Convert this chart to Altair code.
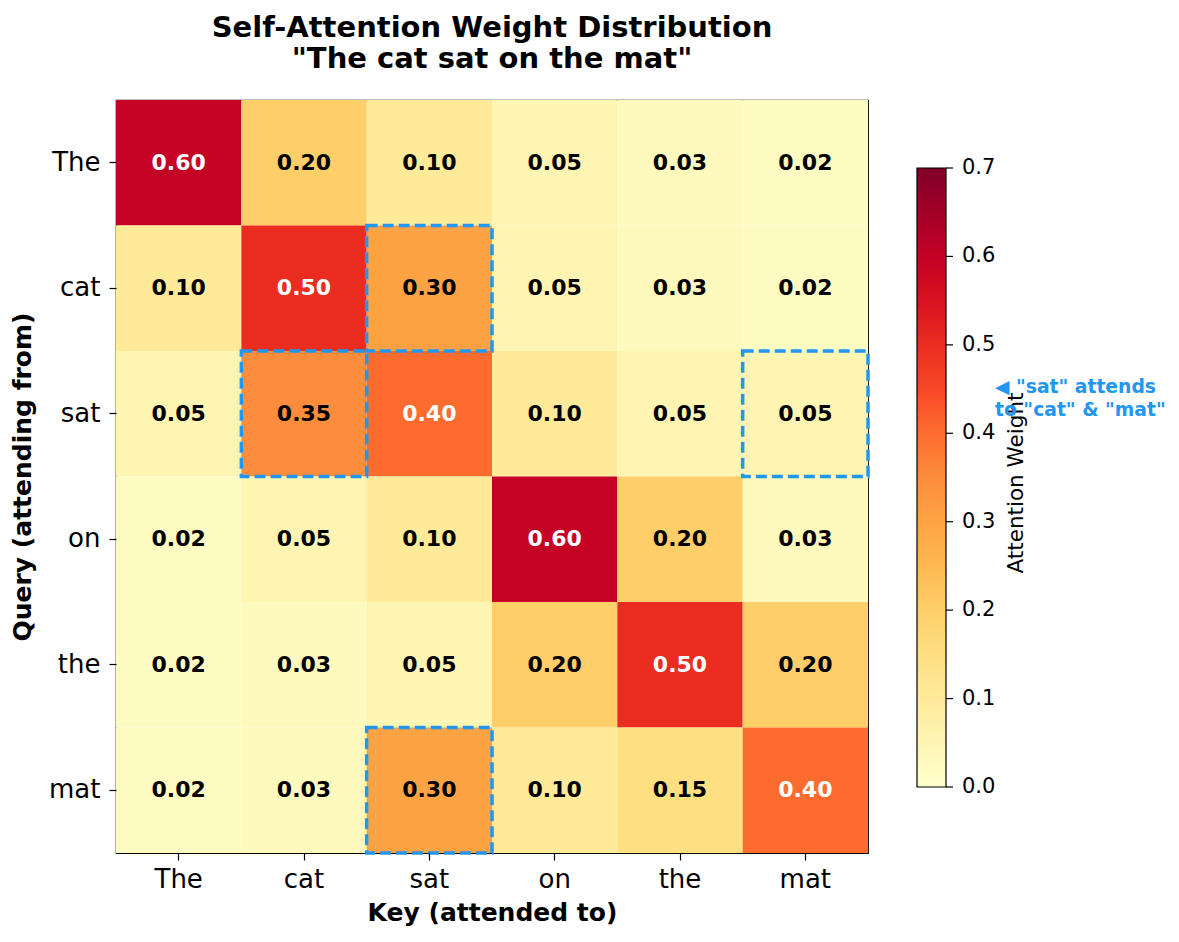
import altair as alt
import pandas as pd

tokens = ["The", "cat", "sat", "on", "the", "mat"]

# attention weights, one row per query token (columns follow the key tokens)
weights = [
    [0.60, 0.20, 0.10, 0.05, 0.03, 0.02],
    [0.10, 0.50, 0.30, 0.05, 0.03, 0.02],
    [0.05, 0.35, 0.40, 0.10, 0.05, 0.05],
    [0.02, 0.05, 0.10, 0.60, 0.20, 0.03],
    [0.02, 0.03, 0.05, 0.20, 0.50, 0.20],
    [0.02, 0.03, 0.30, 0.10, 0.15, 0.40],
]

# cells outlined with a dashed box: (query, key)
highlight_query = ["cat", "sat", "sat", "mat"]
highlight_key = ["sat", "cat", "mat", "sat"]

# YlOrRd colour stops spread over 0 .. 0.7
ylorrd = ["#ffffcc", "#ffeda0", "#fed976", "#feb24c", "#fd8d3c",
          "#fc4e2a", "#e31a1c", "#bd0026", "#800026"]
vmax = 0.7
stops = [vmax * i / (len(ylorrd) - 1) for i in range(len(ylorrd))]
bar_ticks = [0.0, 0.1, 0.2, 0.3, 0.4, 0.5, 0.6, 0.7]

rows = []
for qi, q in enumerate(tokens):
    for ki, k in enumerate(tokens):
        rows.append({"query": q, "key": k, "weight": weights[qi][ki]})
df = pd.DataFrame(rows)

hl = pd.DataFrame({"query": highlight_query, "key": highlight_key})
note = pd.DataFrame({"query": ["sat"]})
cb = pd.DataFrame({"v": bar_ticks, "lab": [f"{t:.1f}" for t in bar_ticks]})

FONT = "DejaVu Sans"
BLUE = "#2196F3"

x_scale = alt.Scale(domain=tokens, paddingInner=0, paddingOuter=0)
y_scale = alt.Scale(domain=tokens, paddingInner=0, paddingOuter=0)

x_enc = alt.X(
    "key:N", sort=tokens, scale=x_scale,
    axis=alt.Axis(
        title="Key (attended to)", labelAngle=0, labelFontSize=26,
        titleFontSize=25, titleFontWeight="bold", tickSize=7, tickWidth=1.2,
        tickColor="black", domain=False, labelPadding=6, titlePadding=8,
        labelColor="black", titleColor="black", labelFont=FONT, titleFont=FONT,
    ),
)
y_enc = alt.Y(
    "query:N", sort=tokens, scale=y_scale,
    axis=alt.Axis(
        title="Query (attending from)", labelFontSize=26,
        titleFontSize=25, titleFontWeight="bold", tickSize=7, tickWidth=1.2,
        tickColor="black", domain=False, labelPadding=9, titlePadding=13,
        labelColor="black", titleColor="black", labelFont=FONT, titleFont=FONT,
    ),
)

heat = alt.Chart(df).mark_rect().encode(
    x=x_enc,
    y=y_enc,
    color=alt.Color(
        "weight:Q",
        scale=alt.Scale(domain=stops, range=ylorrd, clamp=True),
        legend=alt.Legend(
            title=None, orient="none", legendX=801, legendY=68,
            direction="vertical", gradientLength=619, gradientThickness=29,
            gradientStrokeColor="black", gradientStrokeWidth=1.2,
            values=bar_ticks, labelOpacity=0, labelFontSize=1,
        ),
    ),
)

labels = alt.Chart(df).mark_text(
    font=FONT, fontSize=22, fontWeight="bold"
).encode(
    x=alt.X("key:N", sort=tokens, scale=x_scale),
    y=alt.Y("query:N", sort=tokens, scale=y_scale),
    text=alt.Text("weight:Q", format=".2f"),
    color=alt.condition(alt.datum.weight > 0.35, alt.value("white"), alt.value("black")),
)

boxes = alt.Chart(hl).mark_rect(
    fillOpacity=0, stroke=BLUE, strokeWidth=3.5, strokeDash=[11, 5]
).encode(
    x=alt.X("key:N", sort=tokens, scale=x_scale),
    y=alt.Y("query:N", sort=tokens, scale=y_scale),
)

grid = alt.layer(heat, labels, boxes)

# colour bar ticks and labels on their own value scale beside the gradient
cb_scale = alt.Scale(domain=[0, vmax], range=[687, 68])
cb_ticks = alt.Chart(cb).mark_rule(color="black", strokeWidth=1.2).encode(
    x=alt.value(830),
    x2=alt.value(837),
    y=alt.Y("v:Q", scale=cb_scale, axis=None),
)
cb_labels = alt.Chart(cb).mark_text(
    font=FONT, fontSize=21, color="black", align="left", baseline="middle",
).encode(
    x=alt.value(846),
    y=alt.Y("v:Q", scale=cb_scale, axis=None),
    text="lab:N",
)
cb_title = alt.Chart(note).mark_text(
    font=FONT, fontSize=21.5, color="black", angle=270,
    align="center", baseline="middle",
).encode(
    x=alt.value(901),
    y=alt.value(383),
    text=alt.value("Attention Weight"),
)
colorbar = alt.layer(cb_ticks, cb_labels, cb_title)

# note beside the colour bar, drawn last so it sits on top of the caption
annotation = alt.Chart(note).mark_text(
    font=FONT, fontSize=18.75, fontWeight="bold", color=BLUE,
    align="left", baseline="middle", lineHeight=23, dy=-27,
).encode(
    x=alt.value(879),
    y=alt.Y("query:N", sort=tokens, scale=y_scale, axis=None),
    text=alt.value(['\u25c0 "sat" attends', 'to "cat" & "mat"']),
)

chart = alt.layer(grid, colorbar, annotation).resolve_scale(y="independent").properties(
    width=752,
    height=753,
    title=alt.TitleParams(
        text=["Self-Attention Weight Distribution", '"The cat sat on the mat"'],
        fontSize=29, fontWeight="bold", font=FONT, color="black",
        anchor="middle", offset=26, lineHeight=31,
    ),
    autosize=alt.AutoSizeParams(type="none"),
    padding={"left": 116, "top": 100, "right": 311, "bottom": 89},
    background="white",
).configure_view(
    stroke="black", strokeWidth=1.2
)

chart.save("out.html", embed_options={"renderer": "svg", "actions": False})
